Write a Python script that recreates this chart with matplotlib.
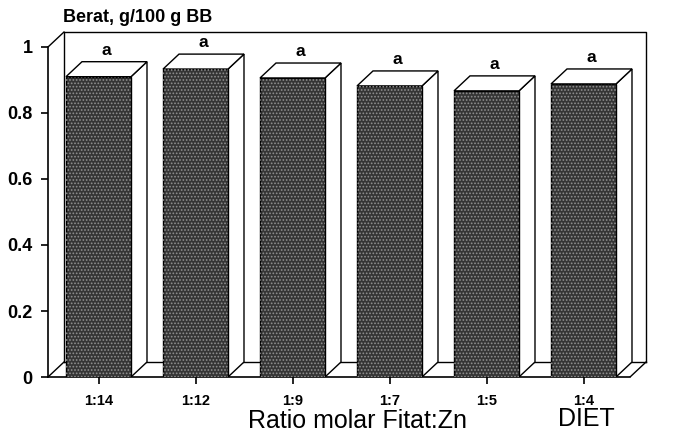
import matplotlib
matplotlib.use("Agg")
import matplotlib.pyplot as plt
from matplotlib.patches import Polygon, Rectangle

categories = ["1:14", "1:12", "1:9", "1:7", "1:5", "1:4"]
values = [0.91, 0.933, 0.906, 0.882, 0.867, 0.888]
letters = ["a", "a", "a", "a", "a", "a"]
yticks = [0, 0.2, 0.4, 0.6, 0.8, 1]
yticklabels = ["0", "0.2", "0.4", "0.6", "0.8", "1"]

plt.rcParams['font.family'] = ['Liberation Sans', 'DejaVu Sans']

W, H = 678, 432
fig = plt.figure(figsize=(W / 100, H / 100), dpi=100)
x_left_px, x_right_px = 48, 661
y0_px, ytop_px = 377, 27
ax = fig.add_axes([x_left_px / W, (H - y0_px) / H, (x_right_px - x_left_px) / W, (y0_px - ytop_px) / H])
px_per_cat = 97.0
x0 = (48 - 98.5) / px_per_cat
xmax = (661 - 98.5) / px_per_cat
ax.set_xlim(x0, xmax)
ax.set_ylim(0, (y0_px - ytop_px) / 330.0)

dx = 16 / px_per_cat
dy = 15 / 330.0
hw = 0.335
xr = 5.48

for s in ['top', 'right']:
    ax.spines[s].set_visible(False)
ax.spines['left'].set_bounds(0, 1)
ax.spines['bottom'].set_bounds(x0, xr)
ax.spines['left'].set_linewidth(1.2)
ax.spines['bottom'].set_linewidth(1.2)

lw = 1.0
ax.plot([x0 + dx, x0 + dx, xr + dx, xr + dx], [dy, 1 + dy, 1 + dy, dy], color='black', lw=lw, zorder=1)
ax.plot([x0 + dx, xr + dx], [dy, dy], color='black', lw=lw, zorder=1)
ax.plot([x0, x0 + dx], [1, 1 + dy], color='black', lw=lw, zorder=1)
ax.plot([x0, x0 + dx], [0, dy], color='black', lw=lw, zorder=1)
ax.plot([xr, xr + dx], [0, dy], color='black', lw=lw, zorder=1)

plt.rcParams['hatch.linewidth'] = 0.8
for i, v in enumerate(values):
    ax.add_patch(Polygon([(i + hw, 0), (i + hw + dx, dy), (i + hw + dx, v + dy), (i + hw, v)],
                         closed=True, facecolor='white', edgecolor='black', lw=lw, zorder=3))
    ax.add_patch(Polygon([(i - hw, v), (i - hw + dx, v + dy), (i + hw + dx, v + dy), (i + hw, v)],
                         closed=True, facecolor='white', edgecolor='black', lw=lw, zorder=3))
    ax.add_patch(Rectangle((i - hw, 0), 2 * hw, v, facecolor='#353535', edgecolor='black', lw=lw, zorder=4))
    ax.add_patch(Rectangle((i - hw, 0), 2 * hw, v, fill=False, hatch='.....', edgecolor='#909090', lw=0, zorder=5))
    ax.text(i + dx / 2, v + dy + 0.012, letters[i], ha='center', va='bottom',
            fontsize=12.5, fontweight='bold', zorder=6)

ax.set_xticks(range(len(categories)))
ax.set_xticklabels(categories, fontsize=10.5, fontweight='bold')
ax.set_yticks(yticks)
ax.set_yticklabels(yticklabels, fontsize=13, fontweight='bold')
ax.tick_params(axis='both', direction='out', length=5, width=1.2, pad=7)
ax.tick_params(axis='y', pad=6)

fig.text(63 / W, 1 - 17 / H, "Berat, g/100 g BB", fontsize=13, fontweight='bold', ha='left', va='center')
fig.text(357 / W, 1 - 421 / H, "Ratio molar Fitat:Zn", fontsize=18, ha='center', va='center')
fig.text(586 / W, 1 - 419 / H, "DIET", fontsize=18, ha='center', va='center')

fig.savefig("out.png", dpi=100)
